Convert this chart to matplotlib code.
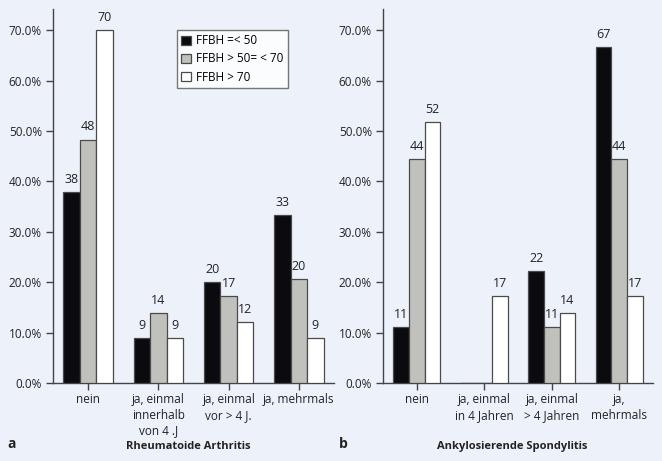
import matplotlib
matplotlib.use("Agg")
import matplotlib.pyplot as plt
import numpy as np
from matplotlib.patches import Patch

plt.rcParams['font.family'] = ['Open Sans', 'DejaVu Sans']

series_names = ["FFBH =< 50", "FFBH > 50= < 70", "FFBH > 70"]
colors = ["#0b0b0f", "#c0c0bd", "#ffffff"]

cats_a = ["nein", "ja, einmal\ninnerhalb\nvon 4 .J", "ja, einmal\nvor > 4 J.", "ja, mehrmals"]
vals_a = [[37.9, 8.9, 20.0, 33.4],
          [48.3, 13.8, 17.3, 20.7],
          [70.0, 9.0, 12.1, 9.0]]
labels_a = [["38", "9", "20", "33"],
            ["48", "14", "17", "20"],
            ["70", "9", "12", "9"]]

cats_b = ["nein", "ja, einmal\nin 4 Jahren", "ja, einmal\n> 4 Jahren", "ja,\nmehrmals"]
vals_b = [[11.1, 0.0, 22.2, 66.7],
          [44.4, 0.0, 11.1, 44.4],
          [51.7, 17.2, 13.8, 17.2]]
labels_b = [["11", "", "22", "67"],
            ["44", "", "11", "44"],
            ["52", "17", "14", "17"]]

yticks = [0, 10, 20, 30, 40, 50, 60, 70]
ytick_labels = ["0.0%", "10.0%", "20.0%", "30.0%", "40.0%", "50.0%", "60.0%", "70.0%"]

bg = "#edf2fa"
W, H = 662, 461
fig = plt.figure(figsize=(W / 100, H / 100), dpi=100, facecolor=bg)

def make_panel(rect, cats, vals, labels, bw):
    ax = fig.add_axes(rect)
    ax.set_facecolor(bg)
    x = np.arange(len(cats)) + 0.5
    for i, (v, lab) in enumerate(zip(vals, labels)):
        xs = x + (i - 1) * bw
        bars = ax.bar(xs, v, width=bw, color=colors[i], edgecolor="#4a4a4a", linewidth=0.9, zorder=3)
        for b, val, t in zip(bars, v, lab):
            if t:
                ax.text(b.get_x() + b.get_width() / 2, val + 1.2, t, ha="center", va="bottom",
                        fontsize=9, color="#222222")
    ax.set_xlim(0, len(cats))
    ax.set_ylim(0, 74.2)
    ax.set_xticks(x)
    ax.set_xticklabels(cats, fontsize=8.5, color="#222222", linespacing=1.25, va="top")
    ax.set_yticks(yticks)
    ax.set_yticklabels(ytick_labels, fontsize=8.5, color="#222222")
    for s in ["top", "right"]:
        ax.spines[s].set_visible(False)
    for s in ["left", "bottom"]:
        ax.spines[s].set_color("#444444")
        ax.spines[s].set_linewidth(1.0)
    ax.tick_params(axis="both", direction="out", length=5, width=1.0, color="#444444", pad=3)
    ax.tick_params(axis="x", pad=2.5)
    return ax

axA = make_panel([53 / W, 78 / H, 281 / W, 374 / H], cats_a, vals_a, labels_a, 0.235)
axB = make_panel([383 / W, 78 / H, 270 / W, 374 / H], cats_b, vals_b, labels_b, 0.23)

handles = [Patch(facecolor=c, edgecolor="#4a4a4a", linewidth=0.9) for c in colors]
leg = fig.legend(handles, series_names, loc="upper left", bbox_to_anchor=(177 / W, 1 - 30 / H),
                 fontsize=8.5, frameon=True, fancybox=False, handlelength=0.8, handleheight=0.8,
                 handletextpad=0.5, borderpad=0.35, labelspacing=0.45, borderaxespad=0)
leg.get_frame().set_edgecolor("#555555")
leg.get_frame().set_linewidth(1.0)
leg.get_frame().set_facecolor("#ffffff")

fig.text(12 / W, 1 - 444 / H, "a", fontsize=10, fontweight="bold", ha="center", va="center", color="#222222")
fig.text(188 / W, 1 - 446 / H, "Rheumatoide Arthritis", fontsize=8, fontweight="bold", ha="center", va="center", color="#222222")
fig.text(343 / W, 1 - 444 / H, "b", fontsize=10, fontweight="bold", ha="center", va="center", color="#222222")
fig.text(512 / W, 1 - 446 / H, "Ankylosierende Spondylitis", fontsize=8, fontweight="bold", ha="center", va="center", color="#222222")

fig.savefig("out.png", dpi=100, facecolor=bg)
